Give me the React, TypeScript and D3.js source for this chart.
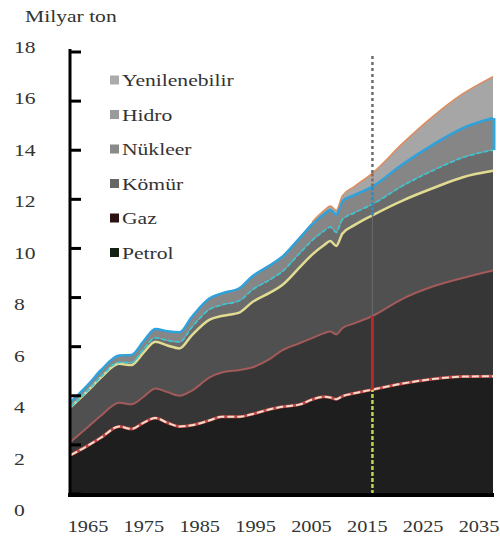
import React from 'react';
import * as d3 from 'd3';

const years = [1965, 1968, 1970, 1973, 1975, 1977, 1979, 1981, 1983, 1985, 1988, 1990, 1993, 1995, 1998, 2000, 2003, 2005, 2007, 2008, 2009, 2010, 2012, 2015, 2020, 2025, 2030, 2035];

const petrol = [1.59, 2.0, 2.3, 2.75, 2.65, 2.9, 3.09, 2.9, 2.75, 2.8, 3.0, 3.15, 3.15, 3.25, 3.45, 3.55, 3.65, 3.85, 3.96, 3.93, 3.86, 3.98, 4.1, 4.25, 4.5, 4.68, 4.78, 4.8];
const gaz = [0.54, 0.77, 0.9, 0.97, 1.0, 1.05, 1.21, 1.25, 1.25, 1.4, 1.75, 1.8, 1.9, 1.9, 2.05, 2.3, 2.5, 2.5, 2.59, 2.69, 2.64, 2.77, 2.85, 3.0, 3.45, 3.77, 4.02, 4.3];
const komur = [1.42, 1.48, 1.55, 1.58, 1.6, 1.8, 1.9, 1.9, 1.93, 2.25, 2.35, 2.3, 2.35, 2.65, 2.7, 2.65, 3.1, 3.4, 3.59, 3.68, 3.6, 3.85, 4.0, 4.1, 4.0, 4.0, 4.1, 4.06];
const nukleer = [0.01, 0.02, 0.04, 0.06, 0.1, 0.13, 0.16, 0.2, 0.26, 0.33, 0.42, 0.45, 0.48, 0.5, 0.53, 0.55, 0.57, 0.58, 0.58, 0.57, 0.56, 0.57, 0.5, 0.45, 0.6, 0.72, 0.8, 0.85];
const hidro = [0.2, 0.23, 0.26, 0.28, 0.31, 0.33, 0.36, 0.38, 0.4, 0.42, 0.45, 0.47, 0.51, 0.55, 0.58, 0.6, 0.62, 0.65, 0.68, 0.7, 0.72, 0.75, 0.72, 0.72, 0.88, 1.05, 1.2, 1.3];
const yenilenebilir = [0.01, 0.01, 0.01, 0.01, 0.02, 0.02, 0.02, 0.02, 0.02, 0.03, 0.03, 0.03, 0.04, 0.04, 0.05, 0.05, 0.07, 0.1, 0.15, 0.16, 0.18, 0.22, 0.35, 0.55, 0.85, 1.15, 1.4, 1.69];

const keys = ['Petrol', 'Gaz', 'Kömür', 'Nükleer', 'Hidro', 'Yenilenebilir'];
const legendOrder = ['Yenilenebilir', 'Hidro', 'Nükleer', 'Kömür', 'Gaz', 'Petrol'];
const yTicks = [0, 2, 4, 6, 8, 10, 12, 14, 16, 18];
const xTickYears = [1965, 1975, 1985, 1995, 2005, 2015, 2025, 2035];
const markerYear = 2015;

const fills: Record<string, string> = {
  Petrol: '#1e1e1e',
  Gaz: '#363636',
  Kömür: '#505050',
  Nükleer: '#6c6c6c',
  Hidro: '#868686',
  Yenilenebilir: '#a6a6a6',
};

const legendColors: Record<string, string> = {
  Yenilenebilir: '#ababab',
  Hidro: '#9a9a9a',
  Nükleer: '#8a8a8a',
  Kömür: '#666666',
  Gaz: '#2c1212',
  Petrol: '#142014',
};

// the source picture is stretched sideways, so text is widened the same way
const stretch = 1.27;

const Label = ({ x, y, size, anchor = 'start', children }: any) => (
  <g transform={`translate(${x},${y}) scale(${stretch},1)`}>
    <text style={{ fontFamily: "'Liberation Serif'" }} fontSize={size} fill="#333" textAnchor={anchor}>
      {children}
    </text>
  </g>
);

const App = () => {
  const rows = years.map((year, i) => ({
    year,
    Petrol: petrol[i],
    Gaz: gaz[i],
    Kömür: komur[i],
    Nükleer: nukleer[i],
    Hidro: hidro[i],
    Yenilenebilir: yenilenebilir[i],
  }));
  const stacked = d3.stack<any>().keys(keys)(rows);

  const x = d3.scaleLinear().domain([1965, 2035]).range([71, 493]);
  const y = d3.scaleLinear().domain([0, 18]).range([494, 52]);
  // labels in the picture sit on a slightly wider spacing than the ticks
  const yLabel = d3.scaleLinear().domain([0, 18]).range([510, 47]);
  const xLabel = d3.scaleLinear().domain([1965, 2035]).range([88, 479]);

  const area = d3.area<any>()
    .x(d => x(d.data.year))
    .y0(d => y(d[0]))
    .y1(d => y(d[1]))
    .curve(d3.curveMonotoneX);
  const top = d3.line<any>()
    .x(d => x(d.data.year))
    .y(d => y(d[1]))
    .curve(d3.curveMonotoneX);

  const idx = years.indexOf(markerYear);
  const at = (k: string) => stacked[keys.indexOf(k)][idx];
  const mx = x(markerYear);

  const last = years.length - 1;
  const hidroLast = stacked[keys.indexOf('Hidro')][last];
  // orange edge only shows once renewables have a visible share
  const renewTop = stacked[5].filter(d => d.data.year >= 2005);

  return (
    <svg width={500} height={540} style={{ position: 'absolute', left: 0, top: 0, background: '#fff' }}>
      <rect width={500} height={540} fill="#fff" />

      <Label x={25} y={22} size={17}>Milyar ton</Label>

      {stacked.map(s => (
        <path key={s.key} d={area(s) || ''} fill={fills[s.key]} />
      ))}

      <line x1={x(years[last]) + 1} x2={x(years[last]) + 1} y1={y(hidroLast[0])} y2={y(hidroLast[1])}
        stroke="#2fa8dc" strokeWidth={3} />

      {/* boundary lines */}
      <path d={top(stacked[0]) || ''} fill="none" stroke="#c44848" strokeWidth={3} />
      <path d={top(stacked[0]) || ''} fill="none" stroke="#f2dccb" strokeWidth={2} strokeDasharray="7,3" />
      <path d={top(stacked[1]) || ''} fill="none" stroke="#a35a5a" strokeWidth={2} />
      <path d={top(stacked[2]) || ''} fill="none" stroke="#e2dc92" strokeWidth={2.5} />
      <path d={top(stacked[3]) || ''} fill="none" stroke="#3cc4d2" strokeWidth={1.8} strokeDasharray="5,2" />
      <path d={top(stacked[4]) || ''} fill="none" stroke="#2ea2dc" strokeWidth={2.5} />
      <path d={top(renewTop) || ''} fill="none" stroke="#e08c5c" strokeWidth={1.5} />

      {/* 2015 marker */}
      <line x1={mx} x2={mx} y1={y(0)} y2={y(at('Petrol')[1])} stroke="#c4d448" strokeWidth={2.5} strokeDasharray="4,2" />
      <line x1={mx} x2={mx} y1={y(at('Gaz')[0])} y2={y(at('Gaz')[1])} stroke="#b42a2a" strokeWidth={3} />
      <line x1={mx} x2={mx} y1={y(at('Kömür')[0])} y2={y(at('Kömür')[1])} stroke="#6a6a6a" strokeWidth={1} />
      <line x1={mx} x2={mx} y1={y(at('Nükleer')[0])} y2={y(at('Hidro')[1])} stroke="#2a8ec8" strokeWidth={3} strokeDasharray="3,2" />
      <line x1={mx} x2={mx} y1={y(at('Yenilenebilir')[0])} y2={y(at('Yenilenebilir')[1])} stroke="#8a6a60" strokeWidth={2.5} strokeDasharray="3,2" />
      <line x1={mx} x2={mx} y1={y(at('Yenilenebilir')[1])} y2={y(17.9)} stroke="#6e6e6e" strokeWidth={2.5} strokeDasharray="3,3" />

      {/* axes */}
      <line x1={70} x2={70} y1={y(18) - 3} y2={y(0) + 3} stroke="#000" strokeWidth={3} />
      <line x1={68} x2={x(2035) + 1} y1={y(0) + 1} y2={y(0) + 1} stroke="#000" strokeWidth={4} />
      {yTicks.map(t => (
        <line key={t} x1={70} x2={81} y1={y(t)} y2={y(t)} stroke="#000" strokeWidth={3} />
      ))}
      {yTicks.map(t => (
        <Label key={t} x={14} y={yLabel(t) + 6} size={17}>{t}</Label>
      ))}
      {xTickYears.map(t => (
        <Label key={t} x={xLabel(t)} y={532} size={16} anchor="middle">{t}</Label>
      ))}

      {/* legend */}
      {legendOrder.map((k, i) => {
        const cy = 80 + i * 34.5;
        return (
          <g key={k}>
            <rect x={110} y={cy - 4.5} width={9} height={9} fill={legendColors[k]} />
            <Label x={122} y={cy + 6} size={17}>{k}</Label>
          </g>
        );
      })}
    </svg>
  );
};

export default App;
